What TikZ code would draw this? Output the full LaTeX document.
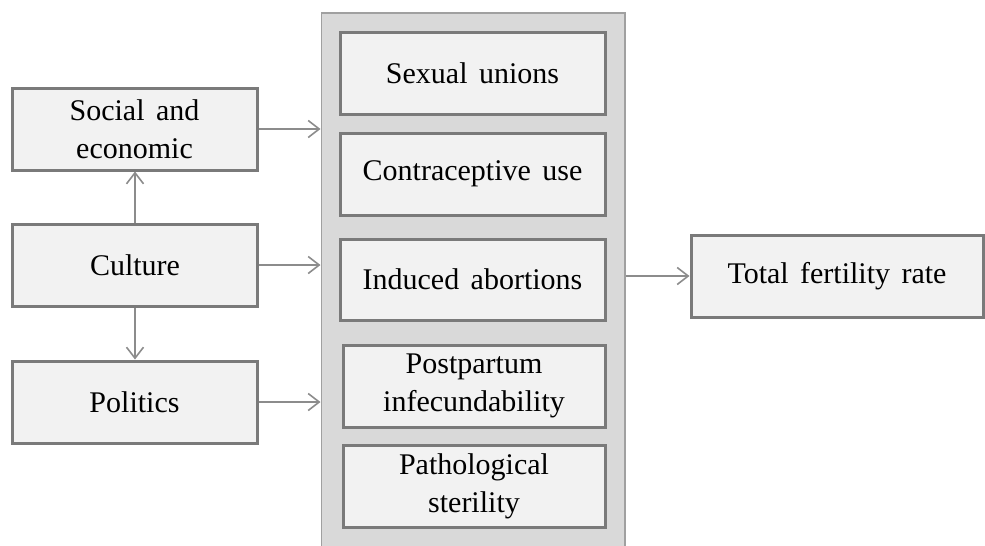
\documentclass[tikz,border=0pt]{standalone}
\usepackage{fontspec}
\setmainfont{Liberation Serif}
\usetikzlibrary{arrows.meta}
\definecolor{boxfill}{HTML}{F2F2F2}
\definecolor{boxline}{HTML}{7A7A7A}
\definecolor{bigfill}{HTML}{D9D9D9}
\definecolor{bigline}{HTML}{A0A0A0}
\definecolor{arrline}{HTML}{8C8C8C}
\newcommand{\boxfont}{\fontsize{30}{38}\selectfont\spaceskip=0.38em plus 0.1em}
\tikzset{
  fbox/.style={draw=boxline, fill=boxfill, line width=3pt, align=center,
    inner sep=0pt, font=\boxfont, text=black},
  bigbox/.style={draw=bigline, fill=bigfill, line width=1.8pt},
  conn/.style={draw=arrline, line width=1.6pt, -{Straight Barb[length=11pt,width=17pt,line width=1.6pt]}}
}
\begin{document}
\begin{tikzpicture}[x=1pt,y=-1pt]
\useasboundingbox (0,0) rectangle (985,546);
\clip (0,0) rectangle (985,546);
\node[bigbox, minimum width=303.5pt, minimum height=560pt, anchor=north west] (big) at (320.5,12) {};
\node[fbox, minimum width=265pt, minimum height=82pt] (su) at (472.5,73) {Sexual unions};
\node[fbox, minimum width=265pt, minimum height=82pt] (cu) at (472.5,174) {Contraceptive use};
\node[fbox, minimum width=265pt, minimum height=81pt] (ia) at (472.5,279.5) {Induced abortions};
\node[fbox, minimum width=262pt, minimum height=82pt] (pp) at (474,386) {Postpartum\\infecundability};
\node[fbox, minimum width=262pt, minimum height=82pt] (ps) at (474,486) {Pathological\\sterility};
\node[fbox, minimum width=245pt, minimum height=82pt] (soc) at (134.5,129) {Social and\\economic};
\node[fbox, minimum width=245pt, minimum height=82pt] (cul) at (135,265) {Culture};
\node[fbox, minimum width=245pt, minimum height=82pt] (pol) at (134.5,402) {Politics};
\node[fbox, minimum width=292pt, minimum height=82pt] (tfr) at (837,276) {Total fertility rate};
\draw[conn] (soc.east) -- (soc.east -| big.west);
\draw[conn] (cul.east) -- (cul.east -| big.west);
\draw[conn] (pol.east) -- (pol.east -| big.west);
\draw[conn] (cul.north) -- (cul.north |- soc.south);
\draw[conn] (cul.south) -- (cul.south |- pol.north);
\draw[conn] (tfr.west -| big.east) -- (tfr.west);
\end{tikzpicture}
\end{document}
